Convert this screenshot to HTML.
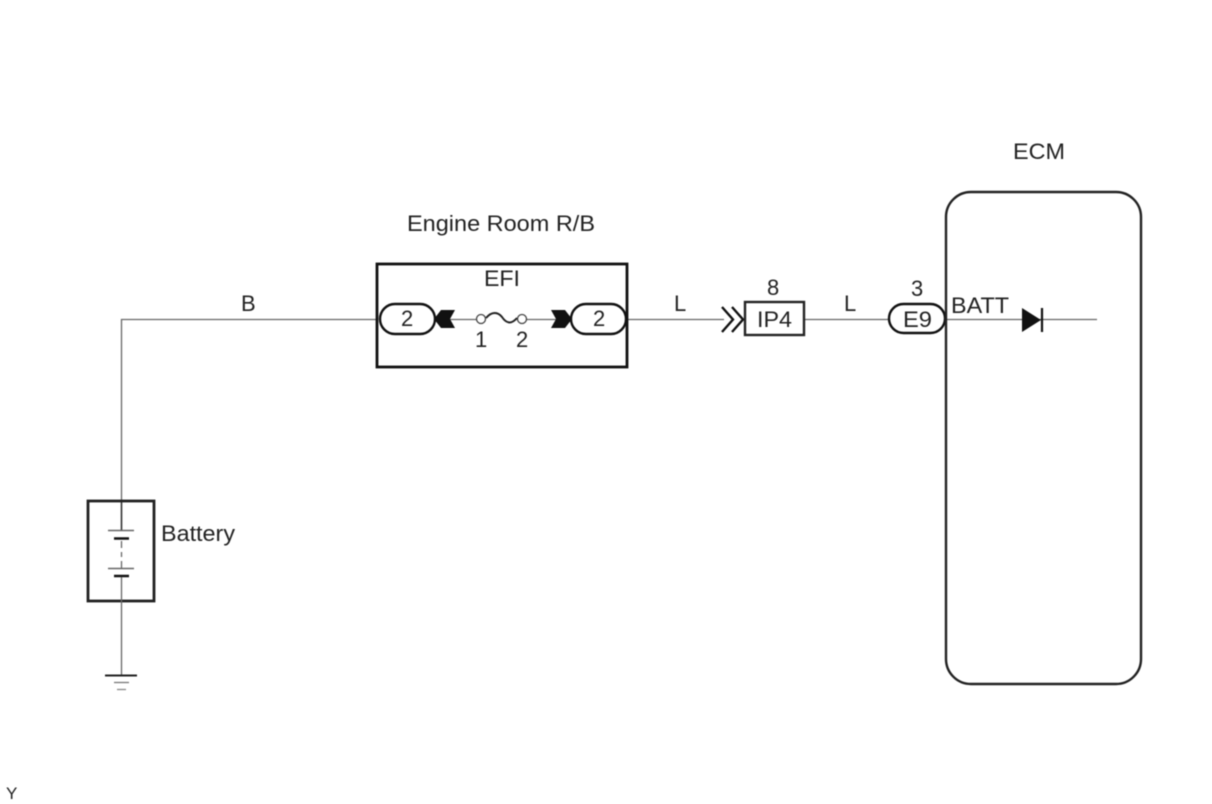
<!DOCTYPE html>
<html>
<head>
<meta charset="utf-8">
<style>
html,body{margin:0;padding:0;background:#fff;width:1212px;height:804px;overflow:hidden}
svg{display:block;filter:blur(0.4px)}
text{font-family:"Liberation Sans",Arial,sans-serif;font-size:22px;fill:#222}
</style>
</head>
<body>
<svg width="1212" height="804" viewBox="0 0 1212 804" xmlns="http://www.w3.org/2000/svg">
<g fill="none" stroke="#666" stroke-width="1.3">
<path d="M377 319.500H121.500V500"/>
<path d="M627 319.500H724"/>
<path d="M804 319.500H889"/>
<path d="M946 319.500H1097"/>
<path d="M435 319.500H477M526 319.500H570"/>
</g>
<path d="M121.500 500V530" stroke="#333" stroke-width="1.600" fill="none"/>
<rect x="377" y="264" width="250" height="103" fill="none" stroke="#111" stroke-width="2.800"/>
<rect x="380" y="304" width="55" height="30" rx="15" fill="#fff" stroke="#111" stroke-width="2.400"/>
<rect x="571" y="304" width="55" height="30" rx="15" fill="#fff" stroke="#111" stroke-width="2.400"/>
<path d="M434 319L441 310H455L450 319L455 328H441Z" fill="#111"/>
<path d="M551 310H565L572 319L565 328H551L556 319Z" fill="#111"/>
<g fill="#fff" stroke="#444" stroke-width="1.300">
<circle cx="481" cy="319" r="4.500"/>
<circle cx="522" cy="319" r="4.500"/>
</g>
<path d="M486 318C492 311 498 312 502 317C506 323 511 325 517 318" fill="none" stroke="#222" stroke-width="2"/>
<path d="M722 307L733 319.500L722 332M732 307L743 319.500L732 332" fill="none" stroke="#111" stroke-width="2.400"/>
<rect x="745" y="302" width="59" height="33" fill="#fff" stroke="#222" stroke-width="2.400"/>
<rect x="889" y="304" width="56" height="29" rx="14.500" fill="#fff" stroke="#111" stroke-width="2.400"/>
<rect x="946" y="192" width="195" height="492" rx="25" fill="none" stroke="#222" stroke-width="2.400"/>
<path d="M1022 308V332L1041 320Z" fill="#111"/>
<path d="M1042 308V332" stroke="#111" stroke-width="2.200"/>
<rect x="88" y="501" width="66" height="100" fill="none" stroke="#222" stroke-width="2.800"/>
<g stroke-linecap="butt" fill="none">
<path d="M108 530.500H134M108 568.500H134" stroke="#666" stroke-width="1.500"/>
<path d="M114 538.500H129M114 576H129" stroke="#111" stroke-width="2.400"/>
<path d="M121.500 541V548M121.500 552V557M121.500 561V568" stroke="#666" stroke-width="1.300"/>
<path d="M121.500 577V675" stroke="#666" stroke-width="1.300"/>
<path d="M105 675.500H137" stroke="#222" stroke-width="2"/>
<path d="M114 682.500H129" stroke="#777" stroke-width="1.300"/>
<path d="M117 689.500H126" stroke="#888" stroke-width="1.300"/>
</g>
<text x="1013" y="159" textLength="52" lengthAdjust="spacingAndGlyphs">ECM</text>
<text x="407" y="231" textLength="188" lengthAdjust="spacingAndGlyphs">Engine Room R/B</text>
<text x="484" y="286" textLength="36" lengthAdjust="spacingAndGlyphs">EFI</text>
<text x="241" y="311">B</text>
<text x="401" y="326">2</text>
<text x="593" y="326">2</text>
<text x="475" y="347">1</text>
<text x="516" y="347">2</text>
<text x="674" y="311">L</text>
<text x="767" y="295">8</text>
<text x="757" y="327" textLength="35" lengthAdjust="spacingAndGlyphs">IP4</text>
<text x="844" y="311">L</text>
<text x="911" y="296">3</text>
<text x="903" y="327" textLength="29" lengthAdjust="spacingAndGlyphs">E9</text>
<text x="951" y="313" textLength="58" lengthAdjust="spacingAndGlyphs">BATT</text>
<text x="161" y="541" textLength="74" lengthAdjust="spacingAndGlyphs">Battery</text>
<text x="6" y="799" style="font-size:17px">Y</text>
</svg>
</body>
</html>
